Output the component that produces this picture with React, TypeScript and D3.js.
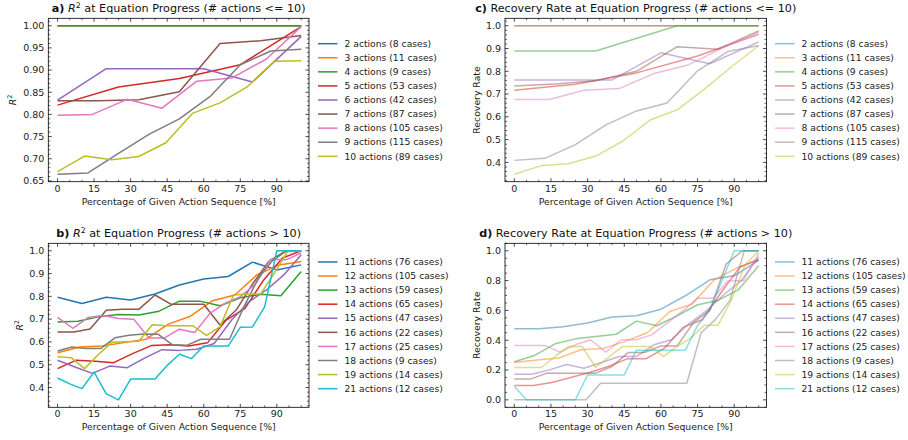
import React from 'react';
import * as d3 from 'd3';

const COLORS = ['#1f77b4', '#ff7f0e', '#2ca02c', '#d62728', '#9467bd', '#8c564b', '#e377c2', '#7f7f7f', '#bcbd22', '#17becf'];

const smallLabels = ['2 actions (8 cases)', '3 actions (11 cases)', '4 actions (9 cases)', '5 actions (53 cases)', '6 actions (42 cases)', '7 actions (87 cases)', '8 actions (105 cases)', '9 actions (115 cases)', '10 actions (89 cases)'];
const largeLabels = ['11 actions (76 cases)', '12 actions (105 cases)', '13 actions (59 cases)', '14 actions (65 cases)', '15 actions (47 cases)', '16 actions (22 cases)', '17 actions (25 cases)', '18 actions (9 cases)', '19 actions (14 cases)', '21 actions (12 cases)'];

// a) R^2, <= 10 actions (one list per action count; points evenly spaced 0..100 %)
const r2Small: number[][] = [
  [1, 1],
  [1, 1, 1],
  [1, 1, 1, 1],
  [0.821, 0.862, 0.881, 0.912, 0.998],
  [0.832, 0.903, 0.903, 0.903, 0.873, 0.976],
  [0.831, 0.831, 0.833, 0.851, 0.96, 0.966, 0.978],
  [0.798, 0.8, 0.834, 0.814, 0.875, 0.882, 0.925, 0.998],
  [0.665, 0.668, 0.712, 0.755, 0.79, 0.84, 0.912, 0.943, 0.947],
  [0.671, 0.706, 0.698, 0.705, 0.736, 0.803, 0.826, 0.862, 0.92, 0.921],
];

// c) Recovery rate, <= 10 actions
const recSmall: number[][] = [
  [1, 1],
  [1, 1, 1],
  [0.889, 0.889, 1, 1],
  [0.717, 0.743, 0.793, 0.867, 0.962],
  [0.762, 0.762, 0.762, 0.881, 0.833, 0.929],
  [0.735, 0.744, 0.759, 0.8, 0.908, 0.897, 0.977],
  [0.676, 0.676, 0.717, 0.724, 0.79, 0.829, 0.905, 0.971],
  [0.409, 0.418, 0.478, 0.565, 0.626, 0.661, 0.802, 0.887, 0.913],
  [0.348, 0.386, 0.394, 0.428, 0.494, 0.586, 0.631, 0.722, 0.82, 0.912],
];

// b) R^2, > 10 actions
const r2Large: number[][] = [
  [0.796, 0.769, 0.796, 0.784, 0.81, 0.85, 0.876, 0.887, 0.95, 0.916, 0.938],
  [0.553, 0.578, 0.582, 0.597, 0.612, 0.678, 0.713, 0.781, 0.806, 0.894, 0.938, 0.953],
  [0.687, 0.691, 0.71, 0.72, 0.718, 0.735, 0.779, 0.779, 0.759, 0.794, 0.809, 0.803, 0.909],
  [0.483, 0.52, 0.515, 0.509, 0.549, 0.584, 0.588, 0.582, 0.596, 0.696, 0.747, 0.872, 0.968, 1.0],
  [0.52, 0.49, 0.462, 0.494, 0.487, 0.529, 0.566, 0.563, 0.568, 0.593, 0.696, 0.776, 0.828, 0.894, 0.982],
  [0.644, 0.644, 0.657, 0.739, 0.743, 0.743, 0.806, 0.765, 0.765, 0.765, 0.674, 0.74, 0.854, 0.953, 0.997, 1.0],
  [0.708, 0.66, 0.707, 0.716, 0.703, 0.7, 0.617, 0.617, 0.656, 0.641, 0.725, 0.769, 0.799, 0.854, 0.963, 0.96, 0.99],
  [0.56, 0.578, 0.571, 0.571, 0.618, 0.629, 0.635, 0.634, 0.588, 0.585, 0.612, 0.612, 0.612, 0.754, 0.879, 0.957, 1.0, 1.0],
  [0.535, 0.531, 0.483, 0.544, 0.599, 0.601, 0.603, 0.675, 0.671, 0.671, 0.671, 0.629, 0.666, 0.806, 0.81, 0.81, 0.901, 0.997, 1.0],
  [0.442, 0.416, 0.395, 0.468, 0.372, 0.346, 0.437, 0.437, 0.437, 0.497, 0.546, 0.527, 0.582, 0.582, 0.582, 0.664, 0.666, 0.754, 1.0, 1.0, 1.0],
];

// d) Recovery rate, > 10 actions
const recLarge: number[][] = [
  [0.477, 0.477, 0.49, 0.515, 0.555, 0.564, 0.608, 0.698, 0.805, 0.832, 0.935],
  [0.25, 0.268, 0.28, 0.336, 0.345, 0.392, 0.452, 0.593, 0.642, 0.805, 0.884, 0.944],
  [0.255, 0.298, 0.376, 0.409, 0.425, 0.44, 0.528, 0.497, 0.564, 0.638, 0.667, 0.738, 0.899],
  [0.096, 0.096, 0.116, 0.15, 0.183, 0.224, 0.275, 0.275, 0.347, 0.488, 0.537, 0.72, 0.89, 0.94],
  [0.172, 0.172, 0.201, 0.237, 0.212, 0.25, 0.291, 0.291, 0.369, 0.403, 0.51, 0.597, 0.705, 0.799, 0.96],
  [0.139, 0.139, 0.179, 0.179, 0.179, 0.179, 0.224, 0.318, 0.318, 0.362, 0.362, 0.519, 0.6, 0.91, 1.0, 1.0],
  [0.365, 0.365, 0.365, 0.32, 0.369, 0.403, 0.32, 0.403, 0.403, 0.436, 0.515, 0.593, 0.682, 0.682, 0.799, 0.799, 0.984],
  [0, 0, 0, 0, 0, 0, 0.111, 0.111, 0.111, 0.111, 0.111, 0.111, 0.111, 0.45, 0.54, 0.667, 1.0, 1.0],
  [0.217, 0.217, 0.217, 0.291, 0.358, 0.358, 0.217, 0.291, 0.358, 0.358, 0.358, 0.291, 0.358, 0.414, 0.5, 0.5, 0.671, 0.906, 1.0],
  [0.09, 0, 0, 0, 0, 0, 0.167, 0.167, 0.167, 0.167, 0.333, 0.333, 0.333, 0.333, 0.333, 0.5, 0.6, 0.8, 1.0, 1.0, 1.0],
];

const xTicks = [0, 15, 30, 45, 60, 75, 90];
const r2SmallTicks = [0.65, 0.7, 0.75, 0.8, 0.85, 0.9, 0.95, 1.0];
const recSmallTicks = [0.4, 0.5, 0.6, 0.7, 0.8, 0.9, 1.0];
const r2LargeTicks = [0.4, 0.5, 0.6, 0.7, 0.8, 0.9, 1.0];
const recLargeTicks = [0.0, 0.2, 0.4, 0.6, 0.8, 1.0];

const FONT = 'DejaVu Sans, sans-serif';
const FS = 9.5;
const FS_LABEL = 9.3;
const FS_LEG = 9.2;
const XDOM: [number, number] = [-3.8, 103.2];

function withMargin(series: number[][]): [number, number] {
  const all = series.flat();
  const lo = d3.min(all) as number;
  const hi = d3.max(all) as number;
  const m = (hi - lo) * 0.05;
  return [lo - m, hi + m];
}

function minorTicks(domain: [number, number], step: number, majors: number[]) {
  const out: number[] = [];
  const start = Math.ceil(domain[0] / step - 1e-9);
  const end = Math.floor(domain[1] / step + 1e-9);
  for (let k = start; k <= end; k++) {
    const v = k * step;
    if (!majors.some((m) => Math.abs(m - v) < step * 0.01)) out.push(v);
  }
  return out;
}

type PanelProps = {
  left: number; right: number; top: number; bottom: number;
  series: number[][]; labels: string[]; yTicks: number[]; yMinor: number; yFmt: string;
  alpha: number; letter: string; titleKind: 'r2' | 'rec'; cond: string; yLabelX: number;
  legendX: number;
};

function Panel(p: PanelProps) {
  const x = d3.scaleLinear().domain(XDOM).range([p.left, p.right]);
  const y = d3.scaleLinear().domain(withMargin(p.series)).range([p.bottom, p.top]);
  const line = d3.line<[number, number]>().x((d) => x(d[0])).y((d) => y(d[1]));
  const fmt = d3.format(p.yFmt);
  const xMinor = minorTicks(XDOM, 5, xTicks);
  const yDom = y.domain() as [number, number];
  const yMin = minorTicks(yDom, p.yMinor, p.yTicks);
  const cx = (p.left + p.right) / 2;
  const cy = (p.top + p.bottom) / 2;
  const MAJ = 3.5, MIN = 2;
  const legStep = 14.08;
  const legTop = cy - ((p.labels.length - 1) * legStep) / 2;
  return (
    <g>
      {p.series.map((vals, i) => {
        const pts: [number, number][] = vals.map((v, j) => [(j / (vals.length - 1)) * 100, v]);
        return (
          <path key={i} d={line(pts) || ''} fill="none" stroke={COLORS[i]} strokeOpacity={p.alpha}
            strokeWidth={1.5} strokeLinejoin="round" strokeLinecap="butt" />
        );
      })}
      <rect x={p.left} y={p.top} width={p.right - p.left} height={p.bottom - p.top} fill="none" stroke="#000" strokeWidth={0.8} />
      {xTicks.map((t) => (
        <g key={'xt' + t}>
          <line x1={x(t)} x2={x(t)} y1={p.bottom} y2={p.bottom - MAJ} stroke="#000" strokeWidth={0.7} />
          <line x1={x(t)} x2={x(t)} y1={p.top} y2={p.top + MAJ} stroke="#000" strokeWidth={0.7} />
          <text x={x(t)} y={p.bottom + 10} textAnchor="middle" fontSize={FS} fontFamily={FONT} fill="#222">{t}</text>
        </g>
      ))}
      {xMinor.map((t) => (
        <g key={'xm' + t}>
          <line x1={x(t)} x2={x(t)} y1={p.bottom} y2={p.bottom - MIN} stroke="#000" strokeWidth={0.6} />
          <line x1={x(t)} x2={x(t)} y1={p.top} y2={p.top + MIN} stroke="#000" strokeWidth={0.6} />
        </g>
      ))}
      {p.yTicks.map((t) => (
        <g key={'yt' + t}>
          <line x1={p.left} x2={p.left + MAJ} y1={y(t)} y2={y(t)} stroke="#000" strokeWidth={0.7} />
          <line x1={p.right} x2={p.right - MAJ} y1={y(t)} y2={y(t)} stroke="#000" strokeWidth={0.7} />
          <text x={p.left - 4} y={y(t)} dy="0.35em" textAnchor="end" fontSize={FS} fontFamily={FONT} fill="#222">{fmt(t)}</text>
        </g>
      ))}
      {yMin.map((t) => (
        <g key={'ym' + t}>
          <line x1={p.left} x2={p.left + MIN} y1={y(t)} y2={y(t)} stroke="#000" strokeWidth={0.6} />
          <line x1={p.right} x2={p.right - MIN} y1={y(t)} y2={y(t)} stroke="#000" strokeWidth={0.6} />
        </g>
      ))}
      <text x={cx} y={p.bottom + 23} textAnchor="middle" fontSize={FS_LABEL} fontFamily={FONT} fill="#222">Percentage of Given Action Sequence [%]</text>
      <text transform={`translate(${p.yLabelX},${cy}) rotate(-90)`} textAnchor="middle" dy="0.35em" fontSize={FS_LABEL} fontFamily={FONT} fill="#222">
        {p.titleKind === 'r2' ? (
          <>
            <tspan fontStyle="italic">R</tspan>
            <tspan dy={-3.5} fontSize={FS_LABEL * 0.7}>2</tspan>
          </>
        ) : 'Recovery Rate'}
      </text>
      <text x={cx} y={p.top - 6} textAnchor="middle" fontSize={11.2} fontFamily={FONT} fill="#111">
        <tspan fontWeight="bold">{p.letter}</tspan>
        {p.titleKind === 'r2' ? (
          <>
            <tspan> </tspan>
            <tspan fontStyle="italic">R</tspan>
            <tspan dy={-4.5} fontSize={7.8}>2</tspan>
            <tspan dy={4.5}>{` at Equation Progress (# actions ${p.cond})`}</tspan>
          </>
        ) : (
          <tspan>{` Recovery Rate at Equation Progress (# actions ${p.cond})`}</tspan>
        )}
      </text>
      {p.labels.map((lab, i) => (
        <g key={'lg' + i}>
          <line x1={p.legendX} x2={p.legendX + 19.5} y1={legTop + i * legStep} y2={legTop + i * legStep}
            stroke={COLORS[i]} strokeOpacity={p.alpha} strokeWidth={1.5} />
          <text x={p.legendX + 26.5} y={legTop + i * legStep} dy="0.35em" fontSize={FS_LEG} fontFamily={FONT} fill="#222">{lab}</text>
        </g>
      ))}
    </g>
  );
}

export default function App() {
  const L = [48.3, 309];
  const R = [505, 766.5];
  const T = [18.3, 181.7];
  const B = [243.3, 407.3];
  return (
    <svg width={908} height={440} viewBox="0 0 908 440"
      style={{ position: 'absolute', left: 0, top: 0, background: '#fff' }}>
      <rect x={0} y={0} width={908} height={440} fill="#fff" />
      <Panel left={L[0]} right={L[1]} top={T[0]} bottom={T[1]} series={r2Small} labels={smallLabels}
        yTicks={r2SmallTicks} yMinor={0.01} yFmt=".2f" alpha={1} letter="a)" titleKind="r2" cond="<= 10"
        yLabelX={12.5} legendX={318} />
      <Panel left={L[0]} right={L[1]} top={B[0]} bottom={B[1]} series={r2Large} labels={largeLabels}
        yTicks={r2LargeTicks} yMinor={0.02} yFmt=".1f" alpha={1} letter="b)" titleKind="r2" cond="> 10"
        yLabelX={19.5} legendX={318} />
      <Panel left={R[0]} right={R[1]} top={T[0]} bottom={T[1]} series={recSmall} labels={smallLabels}
        yTicks={recSmallTicks} yMinor={0.02} yFmt=".1f" alpha={0.5} letter="c)" titleKind="rec" cond="<= 10"
        yLabelX={477} legendX={775} />
      <Panel left={R[0]} right={R[1]} top={B[0]} bottom={B[1]} series={recLarge} labels={largeLabels}
        yTicks={recLargeTicks} yMinor={0.05} yFmt=".1f" alpha={0.5} letter="d)" titleKind="rec" cond="> 10"
        yLabelX={477} legendX={775} />
    </svg>
  );
}
